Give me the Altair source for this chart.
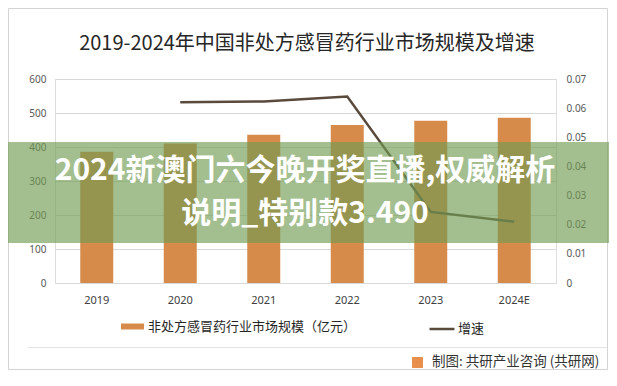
import altair as alt
import pandas as pd

# ---- data ----
years = ["2019", "2020", "2021", "2022", "2023", "2024E"]
market = [386, 410, 436, 465, 477, 486]          # 亿元
growth = [None, 0.062, 0.0623, 0.064, 0.0244, 0.021]

left_ticks = [0, 100, 200, 300, 400, 500, 600]
right_ticks = [0, 0.01, 0.02, 0.03, 0.04, 0.05, 0.06, 0.07]

bar_name = "非处方感冒药行业市场规模（亿元）"
line_name = "增速"
title_text = "2019-2024年中国非处方感冒药行业市场规模及增速"
banner_text = "2024新澳门六今晚开奖直播,权威解析\n说明_特别款3.490"
source_text = "制图: 共研产业咨询 (共研网)"

CJK = "Noto Sans CJK SC"
BAR_COLOR = "#D68B4B"
LINE_COLOR = "#5A4A3C"

df = pd.DataFrame({"year": years, "market": market, "growth": growth,
                   "s1": bar_name, "s2": line_name})
one = pd.DataFrame({"banner": [banner_text], "source": [source_text],
                    "title": [title_text]})

x_enc = alt.X("year:N", sort=years,
              scale=alt.Scale(paddingInner=0, paddingOuter=0),
              axis=alt.Axis(title=None, labelAngle=0, domain=False, ticks=False,
                            labelPadding=11, labelFontSize=11, labelColor="#404040",
                            labelFont="Noto Sans", grid=False))

bars = alt.Chart(df).mark_bar(size=33).encode(
    x=x_enc,
    y=alt.Y("market:Q", scale=alt.Scale(domain=[0, 600]),
            axis=alt.Axis(title=None, values=left_ticks, domain=False, ticks=False,
                          labelPadding=9, labelFontSize=10, labelColor="#595959",
                          labelFont="Noto Sans", gridColor="#D9D9D9", gridWidth=1)),
    fill=alt.Fill("s1:N", scale=alt.Scale(range=[BAR_COLOR]),
                  legend=alt.Legend(title=None, orient="none", legendX=66, legendY=236,
                                    symbolType="M-1,-0.26H1V0.26H-1Z", symbolSize=529,
                                    symbolStrokeWidth=0, labelFontSize=13, labelLimit=400,
                                    labelColor="#262626", labelFont=CJK, labelOffset=4)),
)

line = alt.Chart(df).transform_filter("datum.growth != null").mark_line(
    strokeWidth=2.5).encode(
    x=x_enc,
    y=alt.Y("growth:Q", scale=alt.Scale(domain=[0, 0.07]),
            axis=alt.Axis(title=None, orient="right", values=right_ticks, format="~g",
                          domain=False, ticks=False, grid=False, labelPadding=10,
                          labelFontSize=10, labelColor="#595959", labelFont="Noto Sans")),
    stroke=alt.Stroke("s2:N", scale=alt.Scale(range=[LINE_COLOR]),
                      legend=alt.Legend(title=None, orient="none", legendX=373, legendY=236,
                                        symbolType="stroke", symbolSize=625,
                                        symbolStrokeWidth=2.5, labelFontSize=13,
                                        labelColor="#262626", labelFont=CJK, labelOffset=2)),
)

title = alt.Chart(one).mark_text(align="center", baseline="middle", fontSize=20,
                                 font=CJK, color="#262626").encode(
    text="title:N", x=alt.value(252), y=alt.value(-35))

frame = alt.Chart(one).mark_rect(fill=None, stroke="#D4D4D4", strokeWidth=1).encode(
    x=alt.value(-46.5), x2=alt.value(552.5), y=alt.value(-70.5), y2=alt.value(290.5))

sep = alt.Chart(one).mark_rule(color="#E3E3E3", strokeWidth=1).encode(
    x=alt.value(-27), x2=alt.value(552), y=alt.value(268.5))

icon = alt.Chart(one).mark_rect(fill="#E98F4E", cornerRadius=1).encode(
    x=alt.value(357), x2=alt.value(368), y=alt.value(278), y2=alt.value(289))

source = alt.Chart(one).mark_text(align="left", baseline="middle", fontSize=13.5,
                                  font=CJK, color="#333333").encode(
    text="source:N", x=alt.value(377), y=alt.value(283))

band = alt.Chart(one).mark_rect(fill="#729B53", opacity=0.65).encode(
    x=alt.value(-47), x2=alt.value(560), y=alt.value(63), y2=alt.value(164))

banner = alt.Chart(one).mark_text(align="center", baseline="middle", fontSize=30,
                                  fontWeight="bold", font=CJK, color="#FFFFFF",
                                  lineBreak="\n", lineHeight=43).encode(
    text="banner:N", x=alt.value(250), y=alt.value(92))

chart = alt.layer(bars, line, title, sep, icon, source, frame, band, banner).resolve_scale(
    y="independent"
).properties(
    width=501, height=204,
    padding={"left": 47, "top": 71, "right": 53, "bottom": 95},
    autosize=alt.AutoSizeParams(type="none"),
).configure_view(stroke=None).configure(background="#FFFFFF")

chart.save("out.html", embed_options={"renderer": "svg", "actions": False})
